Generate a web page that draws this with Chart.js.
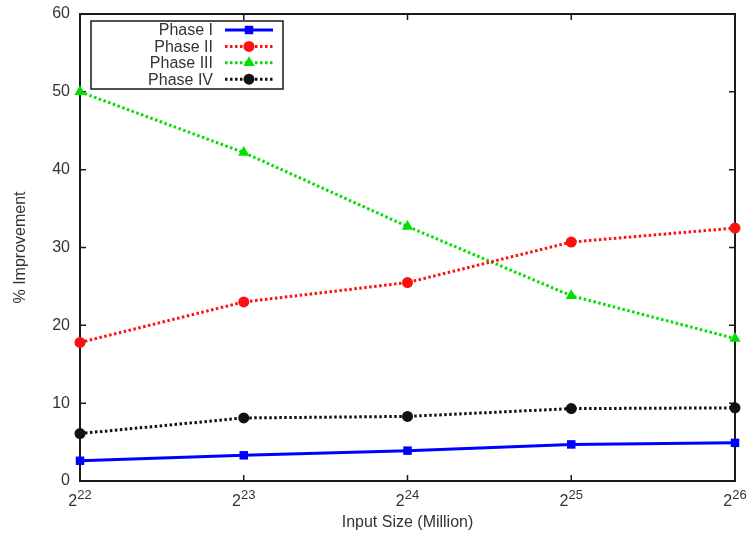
<!DOCTYPE html>
<html>
<head>
<meta charset="utf-8">
<script src="https://cdn.jsdelivr.net/npm/chart.js@4/dist/chart.umd.min.js"></script>
<style>
html,body{margin:0;padding:0;background:#fff;}
#wrap{width:749px;height:535px;position:relative;}
</style>
</head>
<body>
<div id="wrap"><canvas id="chart"></canvas></div>
<script>
// data
const exponents = ["22", "23", "24", "25", "26"];
const phase1 = [2.6, 3.3, 3.9, 4.7, 4.9];
const phase2 = [17.8, 23.0, 25.5, 30.7, 32.5];
const phase3 = [50.0, 42.2, 32.7, 23.8, 18.3];
const phase4 = [6.1, 8.1, 8.3, 9.3, 9.4];
const yMin = 0, yMax = 60, yStep = 10;

const FONT = "'Liberation Sans', Arial, sans-serif";
const TEXT = "#333";

// frame with inward ticks, x labels with exponents, gnuplot like legend
const gnuplotLook = {
  id: "gnuplotLook",
  beforeDatasetsDraw(chart) {
    const ctx = chart.ctx, a = chart.chartArea;
    const xs = chart.scales.x, ys = chart.scales.y;
    ctx.save();
    ctx.strokeStyle = "#1a1a1a";
    ctx.lineWidth = 1.5;
    ys.ticks.forEach(t => {
      const y = ys.getPixelForValue(t.value);
      ctx.beginPath();
      ctx.moveTo(a.left, y); ctx.lineTo(a.left + 6, y);
      ctx.moveTo(a.right, y); ctx.lineTo(a.right - 6, y);
      ctx.stroke();
    });
    exponents.forEach((e, i) => {
      const x = xs.getPixelForValue(i);
      ctx.beginPath();
      ctx.moveTo(x, a.bottom); ctx.lineTo(x, a.bottom - 6);
      ctx.moveTo(x, a.top); ctx.lineTo(x, a.top + 6);
      ctx.stroke();
    });
    ctx.lineWidth = 2;
    ctx.strokeRect(a.left, a.top, a.right - a.left, a.bottom - a.top);

    // x tick labels 2^n
    ctx.fillStyle = TEXT;
    ctx.textBaseline = "alphabetic";
    exponents.forEach((e, i) => {
      const x = xs.getPixelForValue(i);
      ctx.font = "16px " + FONT;
      const wb = ctx.measureText("2").width;
      ctx.font = "13px " + FONT;
      const we = ctx.measureText(e).width;
      const x0 = x - (wb + we) / 2;
      ctx.font = "16px " + FONT;
      ctx.textAlign = "left";
      ctx.fillText("2", x0, a.bottom + 25);
      ctx.font = "13px " + FONT;
      ctx.fillText(e, x0 + wb, a.bottom + 18);
    });
    ctx.restore();
  },
  afterDatasetsDraw(chart) {
    const ctx = chart.ctx;
    ctx.save();
    ctx.strokeStyle = "#1a1a1a";
    ctx.lineWidth = 1.5;
    ctx.strokeRect(91, 21, 192, 68);
    chart.data.datasets.forEach((ds, i) => {
      const y = 30 + i * 16.4;
      ctx.fillStyle = TEXT;
      ctx.font = "16px " + FONT;
      ctx.textAlign = "right";
      ctx.textBaseline = "middle";
      ctx.fillText(ds.label, 213, y + 1);
      ctx.strokeStyle = ds.borderColor;
      ctx.lineWidth = ds.borderWidth;
      ctx.setLineDash(ds.borderDash || []);
      ctx.beginPath();
      ctx.moveTo(225, y); ctx.lineTo(273, y);
      ctx.stroke();
      ctx.setLineDash([]);
      ctx.fillStyle = ds.pointBackgroundColor;
      const r = ds.pointRadius;
      ctx.beginPath();
      if (ds.pointStyle === "rect") {
        const s = r * Math.SQRT1_2;
        ctx.rect(249 - s, y - s, 2 * s, 2 * s);
      } else if (ds.pointStyle === "triangle") {
        ctx.moveTo(249, y - r);
        ctx.lineTo(249 + r * 0.87, y + r * 0.5);
        ctx.lineTo(249 - r * 0.87, y + r * 0.5);
        ctx.closePath();
      } else {
        ctx.arc(249, y, r, 0, Math.PI * 2);
      }
      ctx.fill();
    });
    ctx.restore();
  }
};

function series(label, data, color, dash, style, radius) {
  return {
    label: label,
    data: data,
    borderColor: color,
    backgroundColor: color,
    pointBackgroundColor: color,
    pointBorderColor: color,
    borderWidth: 3,
    borderDash: dash,
    pointStyle: style,
    pointRadius: radius,
    pointBorderWidth: 0,
    tension: 0,
    fill: false,
    clip: false
  };
}

new Chart(document.getElementById("chart"), {
  type: "line",
  data: {
    labels: exponents.map(e => "2^" + e),
    datasets: [
      series("Phase I", phase1, "#0000ff", [], "rect", 6),
      series("Phase II", phase2, "#ff1010", [2.5, 2.5], "circle", 5.5),
      series("Phase III", phase3, "#00e000", [2.5, 2.5], "triangle", 6.5),
      series("Phase IV", phase4, "#111111", [2.5, 2.5], "circle", 5.5)
    ]
  },
  options: {
    responsive: true,
    maintainAspectRatio: false,
    animation: false,
    layout: { padding: { top: 14, right: 14, left: 0, bottom: 0 } },
    plugins: { legend: { display: false }, tooltip: { enabled: false } },
    scales: {
      x: {
        type: "category",
        offset: false,
        grid: { display: false, drawTicks: false },
        border: { display: false },
        ticks: { callback: () => "", padding: 0 },
        title: {
          display: true,
          text: "Input Size (Million)",
          color: TEXT,
          font: { family: FONT, size: 16 },
          padding: { top: 0, bottom: 3 }
        },
        afterFit: s => { s.height = 54; s.paddingLeft = 0; s.paddingRight = 0; }
      },
      y: {
        min: yMin,
        max: yMax,
        grid: { display: false, drawTicks: false },
        border: { display: false },
        ticks: {
          stepSize: yStep,
          padding: 10,
          color: TEXT,
          font: { family: FONT, size: 16 }
        },
        title: {
          display: true,
          text: "% Improvement",
          color: TEXT,
          font: { family: FONT, size: 16 },
          padding: { top: 11, bottom: 0 }
        },
        afterFit: s => { s.width = 80; s.paddingTop = 0; s.paddingBottom = 0; }
      }
    }
  },
  plugins: [gnuplotLook]
});
</script>
</body>
</html>
